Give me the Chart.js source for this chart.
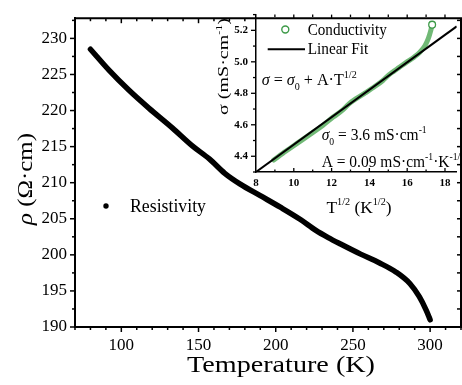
<!DOCTYPE html>
<html>
<head>
<meta charset="utf-8">
<script src="https://cdn.jsdelivr.net/npm/chart.js@4.4.0/dist/chart.umd.min.js"></script>
<style>
  html, body { margin: 0; padding: 0; background: #fff; }
  #wrap { position: relative; width: 462px; height: 385px; }
  #wrap canvas { position: absolute; left: 0; top: 0; }
</style>
</head>
<body>
<div id="wrap">
  <canvas id="mainChart" width="462" height="385"></canvas>
  <canvas id="insetChart" width="462" height="385"></canvas>
</div>
<script>
// ----------------------------------------
// Resistivity vs temperature, with sigma vs T^1/2 inset
// ----------------------------------------

const SERIF = "'Liberation Serif', 'Times New Roman', serif";

// main panel
const temperature = [80, 92, 105, 118, 133, 146, 157, 167, 177, 190, 203, 216, 226, 234, 242, 255, 267, 278, 287, 293, 297.5, 300];
const resistivity = [228.5, 225.6, 222.8, 220.3, 217.6, 215.1, 213.3, 211.3, 209.8, 208.2, 206.6, 204.9, 203.4, 202.4, 201.5, 200.1, 198.9, 197.6, 196.0, 194.2, 192.3, 191.0];
const tempTicks = [100, 150, 200, 250, 300];
const rhoTicks = [190, 195, 200, 205, 210, 215, 220, 225, 230];

// inset panel
const sqrtT = [8.94, 9.59, 10.25, 10.86, 11.53, 12.08, 12.53, 12.92, 13.30, 13.78, 14.25, 14.70, 15.03, 15.30, 15.56, 15.97, 16.34, 16.67, 16.94, 17.12, 17.25, 17.32];
const conductivity = [4.376, 4.433, 4.488, 4.539, 4.596, 4.649, 4.688, 4.733, 4.766, 4.803, 4.840, 4.880, 4.917, 4.941, 4.963, 4.998, 5.028, 5.061, 5.102, 5.149, 5.200, 5.236];
const fitX = [8, 18.62];
const fitY = [4.30, 5.225];
const sqrtTTicks = [8, 10, 12, 14, 16, 18];
const sigmaTicks = [4.4, 4.6, 4.8, 5.0, 5.2];

const INSET_LEFT = 256;
const GREEN = '#3d9a48';

const fontOf = p => `${p.it ? 'italic ' : ''}${p.s}px ${SERIF}`;

// draws a run of text pieces (sub/superscripts via dy), optionally stretched to a width
function rich(ctx, parts, x, y, o = {}) {
    ctx.save();
    ctx.translate(x, y);
    if (o.rotate) ctx.rotate(o.rotate);
    let w = 0;
    parts.forEach(p => { ctx.font = fontOf(p); w += ctx.measureText(p.t).width; });
    const sx = o.width ? o.width / w : (o.sx || 1);
    ctx.scale(sx, 1);
    let cx = o.align === 'center' ? -w / 2 : 0;
    ctx.fillStyle = '#000';
    ctx.textAlign = 'left';
    ctx.textBaseline = 'alphabetic';
    parts.forEach(p => {
        ctx.font = fontOf(p);
        ctx.fillText(p.t, cx, p.dy || 0);
        cx += ctx.measureText(p.t).width;
    });
    ctx.restore();
    return sx;
}

function seg(ctx, x1, y1, x2, y2) {
    ctx.beginPath();
    ctx.moveTo(x1, y1);
    ctx.lineTo(x2, y2);
    ctx.stroke();
}

const mainDecor = {
    id: 'mainDecor',
    afterDraw(chart) {
        const { ctx, chartArea: a, scales: { x, y } } = chart;
        ctx.save();
        ctx.strokeStyle = '#000';
        ctx.lineWidth = 2;
        ctx.beginPath();
        ctx.moveTo(a.left, a.top);
        ctx.lineTo(a.right, a.top);
        ctx.lineTo(a.right, a.bottom);
        ctx.stroke();

        ctx.lineWidth = 1.5;
        for (let v = 70; v <= 320; v += 10) {
            const px = x.getPixelForValue(v);
            const len = tempTicks.includes(v) ? 5 : 3;
            seg(ctx, px, a.bottom, px, a.bottom + len);
            if (px < INSET_LEFT - 2) seg(ctx, px, a.top, px, a.top + len);
        }
        for (let v = 190; v <= 232.5; v += 2.5) {
            const py = y.getPixelForValue(v);
            const len = rhoTicks.includes(v) ? 5 : 3;
            seg(ctx, a.left - len, py, a.left, py);
            seg(ctx, a.right - 4, py, a.right, py);
        }

        // axis titles
        rich(ctx, [{ t: 'Temperature (K)', s: 23 }], 281, 372, { align: 'center', width: 188 });
        rich(ctx, [{ t: 'ρ', s: 22, it: true }, { t: ' (Ω·cm)', s: 22 }], 32, 179,
            { align: 'center', rotate: -Math.PI / 2, width: 92 });

        // legend
        ctx.fillStyle = '#000';
        ctx.beginPath();
        ctx.arc(106, 206, 2.7, 0, Math.PI * 2);
        ctx.fill();
        rich(ctx, [{ t: 'Resistivity', s: 19 }], 130, 212, { width: 76 });
        ctx.restore();
    }
};

new Chart(document.getElementById('mainChart'), {
    type: 'line',
    data: {
        datasets: [{
            label: 'Resistivity',
            data: temperature.map((t, i) => ({ x: t, y: resistivity[i] })),
            borderColor: '#000',
            borderWidth: 5.5,
            borderCapStyle: 'round',
            pointRadius: 0,
            cubicInterpolationMode: 'monotone'
        }]
    },
    options: {
        responsive: false,
        devicePixelRatio: 1,
        animation: false,
        layout: { padding: { left: 0, top: 14, right: 1, bottom: 0 } },
        plugins: { legend: { display: false }, tooltip: { enabled: false } },
        scales: {
            x: {
                type: 'linear', min: 70, max: 320,
                afterBuildTicks: s => { s.ticks = tempTicks.map(v => ({ value: v })); },
                afterFit: s => { s.height = 58; },
                ticks: { font: { family: SERIF, size: 17 }, color: '#000', padding: 8, maxRotation: 0 },
                grid: { display: false, drawTicks: false },
                border: { display: true, color: '#000', width: 2 }
            },
            y: {
                type: 'linear', min: 190, max: 232.8,
                afterBuildTicks: s => { s.ticks = rhoTicks.map(v => ({ value: v })); },
                afterFit: s => { s.width = 75; },
                ticks: { font: { family: SERIF, size: 17 }, color: '#000', padding: 8 },
                grid: { display: false, drawTicks: false },
                border: { display: true, color: '#000', width: 2 }
            }
        }
    },
    plugins: [mainDecor]
});

const insetDecor = {
    id: 'insetDecor',
    afterDraw(chart) {
        const { ctx, chartArea: a, scales: { x, y } } = chart;
        ctx.save();
        ctx.strokeStyle = '#000';
        ctx.lineWidth = 1.3;
        for (let i = 43; i <= 53; i++) {
            const v = i / 10;
            const py = y.getPixelForValue(v);
            const len = i % 2 === 0 ? 5 : 3;
            seg(ctx, a.left - len, py, a.left, py);
        }
        for (let v = 9; v <= 18; v++) {
            const px = x.getPixelForValue(v);
            const len = v % 2 === 0 ? 4 : 2.5;
            seg(ctx, px, a.bottom, px, a.bottom - len);
            seg(ctx, px, a.top, px, a.top + len);
        }

        // legend
        ctx.strokeStyle = GREEN;
        ctx.lineWidth = 1.4;
        ctx.beginPath();
        ctx.arc(285.3, 29.5, 3.5, 0, Math.PI * 2);
        ctx.stroke();
        rich(ctx, [{ t: 'Conductivity', s: 16 }], 307.7, 35, { width: 79 });
        ctx.strokeStyle = '#000';
        ctx.lineWidth = 2;
        seg(ctx, 267.7, 49.3, 305, 49.3);
        rich(ctx, [{ t: 'Linear Fit', s: 16 }], 307.7, 54, { width: 60.6 });

        // equations
        rich(ctx, [
            { t: 'σ', s: 16, it: true }, { t: ' = ', s: 16 }, { t: 'σ', s: 16, it: true },
            { t: '0', s: 10, dy: 5 }, { t: ' + A·T', s: 16 }, { t: '1/2', s: 10, dy: -7 }
        ], 261.7, 85, { width: 95 });
        const sx = rich(ctx, [
            { t: 'σ', s: 16, it: true }, { t: '0', s: 10, dy: 5 },
            { t: ' = 3.6 mS·cm', s: 16 }, { t: '-1', s: 10, dy: -7 }
        ], 321.7, 139.5, { width: 105 });
        rich(ctx, [
            { t: 'A = 0.09 mS·cm', s: 16 }, { t: '-1', s: 10, dy: -7 },
            { t: '·K', s: 16 }, { t: '-1/2', s: 10, dy: -7 }
        ], 321.7, 166.5, { sx });

        // axis titles
        rich(ctx, [
            { t: 'T', s: 17 }, { t: '1/2', s: 10, dy: -8 }, { t: ' (K', s: 17 },
            { t: '1/2', s: 10, dy: -8 }, { t: ')', s: 17 }
        ], 359, 213, { align: 'center', width: 65 });
        rich(ctx, [
            { t: 'σ', s: 15 }, { t: ' (mS·cm', s: 15 }, { t: '-1', s: 9, dy: -6 }, { t: ')', s: 15 }
        ], 228, 66.5, { align: 'center', rotate: -Math.PI / 2, width: 97 });
        ctx.restore();
    }
};

const lastIdx = sqrtT.length - 1;

new Chart(document.getElementById('insetChart'), {
    type: 'line',
    data: {
        datasets: [{
            label: 'Linear Fit',
            data: fitX.map((v, i) => ({ x: v, y: fitY[i] })),
            borderColor: '#000',
            borderWidth: 2,
            pointRadius: 0,
            order: 0
        }, {
            label: 'Conductivity',
            data: sqrtT.map((v, i) => ({ x: v, y: conductivity[i] })),
            showLine: true,
            borderColor: 'rgba(78, 168, 84, 0.8)',
            borderWidth: 5,
            borderCapStyle: 'round',
            cubicInterpolationMode: 'monotone',
            pointRadius: c => (c.dataIndex === lastIdx ? 3.4 : 0),
            pointBorderWidth: 1.3,
            pointBorderColor: GREEN,
            pointBackgroundColor: '#fff',
            order: 1
        }]
    },
    options: {
        responsive: false,
        devicePixelRatio: 1,
        animation: false,
        events: [],
        layout: { padding: { left: INSET_LEFT - 30, top: 13, right: 1, bottom: 385 - 172 - 20 } },
        plugins: { legend: { display: false }, tooltip: { enabled: false } },
        scales: {
            x: {
                type: 'linear', min: 8, max: 18.62,
                afterBuildTicks: s => { s.ticks = sqrtTTicks.map(v => ({ value: v })); },
                afterFit: s => { s.height = 20; },
                ticks: { font: { family: SERIF, size: 11, weight: 'bold' }, color: '#000', padding: 5, maxRotation: 0 },
                grid: { display: false, drawTicks: false },
                border: { display: true, color: '#000', width: 1.5 }
            },
            y: {
                type: 'linear', min: 4.3, max: 5.3,
                afterBuildTicks: s => { s.ticks = sigmaTicks.map(v => ({ value: v })); },
                afterFit: s => { s.width = 30; },
                ticks: {
                    font: { family: SERIF, size: 11, weight: 'bold' }, color: '#000', padding: 8,
                    callback: v => v.toFixed(1)
                },
                grid: { display: false, drawTicks: false },
                border: { display: true, color: '#000', width: 1.5 }
            }
        }
    },
    plugins: [insetDecor]
});
</script>
</body>
</html>
